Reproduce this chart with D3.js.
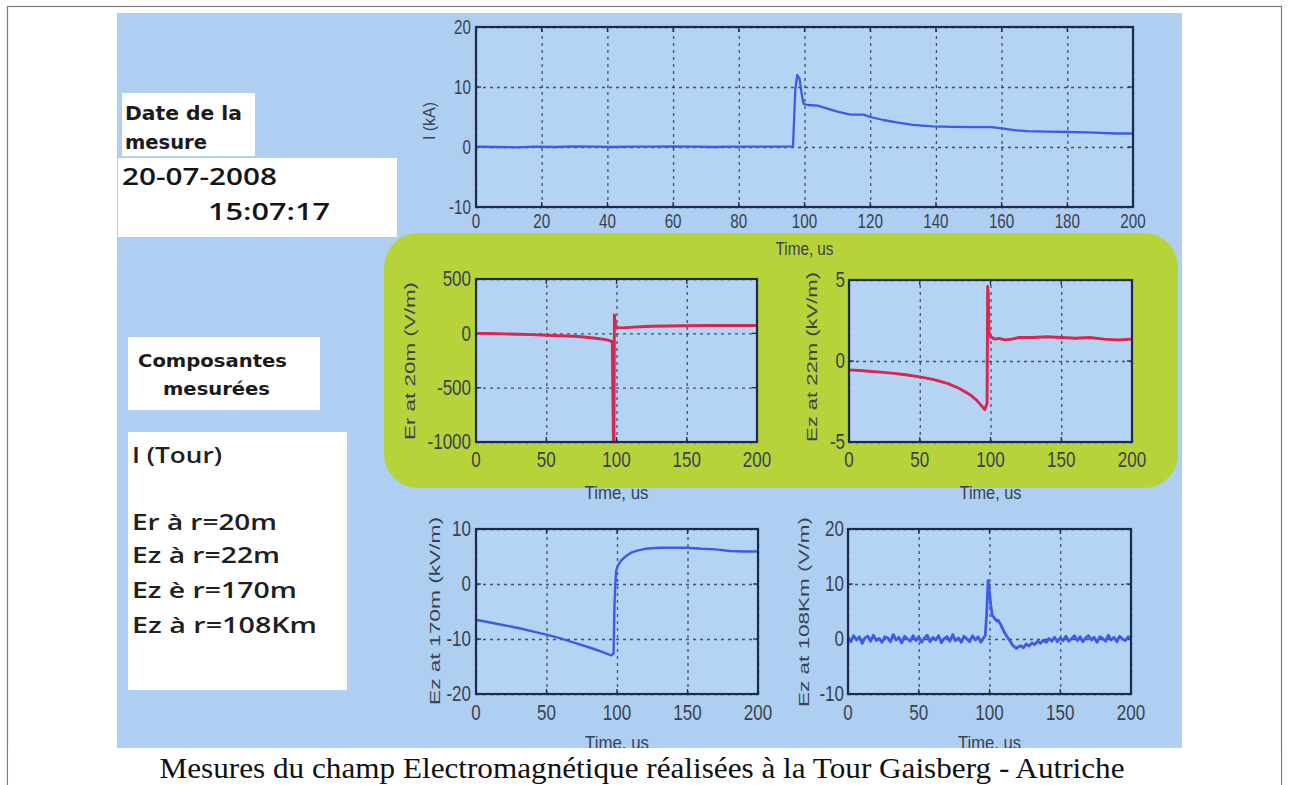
<!DOCTYPE html>
<html><head><meta charset="utf-8">
<script src="https://cdn.jsdelivr.net/npm/d3@7"></script>
<style>body{margin:0;background:#fff}svg{display:block}</style>
</head><body>
<svg id="c" width="1290" height="785"></svg>
<script>
// ---------- data ----------
const ticksTime20 = [0,20,40,60,80,100,120,140,160,180,200];
const ticksTime50 = [0,50,100,150,200];
const ticksI = [-10,0,10,20];
const ticksEr20 = [-1000,-500,0,500];
const ticksEz22 = [-5,0,5];
const ticksEz170 = [-20,-10,0,10];
const ticksEz108 = [-10,0,10,20];

const tI  = [0,6,12,18,24,30,36,42,48,54,60,66,72,78,84,90,96.5,97.2,97.8,98.5,99.1,99.7,101,104,107,110,114,118,120,124,128,133,139,145,151,157,160,164,168,174,180,186,190,195,200];
const vI  = [0.05,0,-0.05,0.05,0,0.1,0.05,0,0.05,0.05,0.1,0.05,0,0.05,0.05,0.05,0.1,9.5,12.0,11.4,9.0,7.2,7.0,6.9,6.4,5.9,5.4,5.4,5.0,4.5,4.1,3.7,3.45,3.35,3.3,3.3,3.1,2.8,2.65,2.55,2.5,2.45,2.35,2.25,2.25];

const tEr20 = [0,10,20,30,40,50,60,70,75,80,85,90,93,95,97,97.8,98.2,98.5,99,100,103,107,112,118,125,135,150,165,180,200];
const vEr20 = [0,-2,-5,-8,-12,-17,-22,-27,-31,-38,-45,-53,-60,-68,-77,-1000,-1000,170,100,55,50,53,57,61,65,68,70,72,72,72];

const tEz22 = [0,10,20,30,40,50,60,70,78,85,90,94,96,97.6,98.0,98.4,98.9,100,103,106,110,115,120,130,140,150,160,170,180,190,200];
const vEz22 = [-0.55,-0.6,-0.67,-0.75,-0.85,-0.98,-1.15,-1.4,-1.7,-2.05,-2.4,-2.8,-3.0,-2.6,4.6,4.2,1.8,1.5,1.35,1.4,1.3,1.35,1.45,1.45,1.5,1.45,1.4,1.45,1.35,1.3,1.35];

const tEz170 = [0,10,20,30,40,50,60,70,80,90,96,97.6,98.2,98.8,99.5,100.5,103,106,110,115,120,130,140,150,160,170,180,190,200];
const vEz170 = [-6.5,-7.0,-7.5,-8.0,-8.6,-9.2,-9.9,-10.7,-11.5,-12.4,-13.0,-12.6,-4.0,0.0,2.5,3.3,4.3,5.0,5.7,6.1,6.4,6.6,6.6,6.6,6.4,6.3,6.0,5.9,5.9];

const tEz108 = [0,2,4,6,8,10,12,14,16,18,20,22,24,26,28,30,32,34,36,38,40,42,44,46,48,50,52,54,56,58,60,62,64,66,68,70,72,74,76,78,80,82,84,86,88,90,92,94,96,
  97,98,99,100,101,102,103,104,105,106,107,108,109,110,111,112,113,114,115,116,117,118,119,120,
  122,124,126,128,130,132,134,136,138,140,142,144,146,148,150,152,154,156,158,160,162,164,166,168,170,172,174,176,178,180,182,184,186,188,190,192,194,196,198,200];
const vEz108 = [0.3,-0.5,0.6,-0.2,0.4,-0.8,0.2,0.5,-0.4,0.7,-0.3,0.1,-0.6,0.4,0.2,-0.5,0.8,-0.2,0.3,-0.7,0.5,0.0,-0.4,0.6,-0.3,0.4,-0.6,0.2,0.7,-0.5,0.3,-0.2,0.6,-0.7,0.1,0.4,-0.4,0.8,-0.3,0.2,-0.6,0.5,0.0,-0.5,0.6,-0.2,0.4,-0.6,0.3,
  0.6,4.5,10.6,8.5,6.0,4.2,4.0,3.6,3.3,3.4,3.0,2.6,2.0,1.5,1.0,0.6,0.2,-0.2,-0.5,-1.0,-1.3,-1.5,-1.7,-1.5,
  -1.2,-1.6,-0.9,-1.3,-0.7,-1.0,-0.4,-0.8,-0.2,-0.6,0.1,-0.4,0.3,-0.5,0.2,-0.3,0.5,-0.4,0.1,0.6,-0.3,0.4,-0.5,0.2,0.6,-0.2,0.3,-0.6,0.4,0.1,-0.4,0.7,-0.2,0.3,-0.5,0.5,0.0,-0.3,0.4,-0.1];

const boxDate = ["Date de la", "mesure"];
const boxDateValue = ["20-07-2008", "15:07:17"];
const boxComp = ["Composantes", "mesurées"];
const boxList = ["I (Tour)", "Er à r=20m", "Ez à r=22m", "Ez è r=170m", "Ez à r=108Km"];
const caption = "Mesures du champ Electromagnétique réalisées à la Tour Gaisberg - Autriche";

// ---------- drawing ----------
const svg = d3.select("#c");
const BLUE = "#3f5ae6", RED = "#d8264f";

// outer frame
svg.append("rect").attr("x",7.5).attr("y",6.5).attr("width",1274).attr("height",790)
  .attr("fill","#fff").attr("stroke","#7a7a7a").attr("stroke-width",1.2);
// slide background
svg.append("rect").attr("x",117).attr("y",13).attr("width",1065).attr("height",735).attr("fill","#aecff2");
// green panel
svg.append("rect").attr("x",384).attr("y",233).attr("width",794).attr("height",255).attr("rx",34)
  .attr("fill","#b6d43a");

// text boxes
function box(x,y,w,h){ svg.append("rect").attr("x",x).attr("y",y).attr("width",w).attr("height",h).attr("fill","#fff"); }
box(122,93,133,63);
box(118,158,279,79);
box(128,337,192,73);
box(128,432,219,258);

const boldFont = "'DejaVu Sans', Verdana, sans-serif";
function txt(s,x,y,opt){
  const t = svg.append("text").attr("x",x).attr("y",y).text(s)
    .attr("font-family",opt.family||boldFont).attr("font-size",opt.size)
    .attr("font-weight",opt.weight||"bold").attr("fill",opt.fill||"#1b1b1b")
    .attr("dominant-baseline","central").attr("text-anchor",opt.anchor||"start");
  if(opt.len) t.attr("textLength",opt.len).attr("lengthAdjust","spacingAndGlyphs");
  return t;
}
txt(boxDate[0],125,113,{size:19,len:117});
txt(boxDate[1],125,142,{size:19,len:82});
txt(boxDateValue[0],122,176,{size:23,weight:"600",family:"'Open Sans', 'DejaVu Sans', sans-serif",len:155,fill:"#151515"});
txt(boxDateValue[1],208,211,{size:23,weight:"600",family:"'Open Sans', 'DejaVu Sans', sans-serif",len:122,fill:"#151515"});
txt(boxComp[0],138,360,{size:18,len:149});
txt(boxComp[1],163,388,{size:18,len:107});
const listY = [455,522,555,590,625];
const listLen = [90,145,148,165,185];
boxList.forEach((s,i)=> txt(s,132,listY[i],{size:21,weight:"600",family:"'Open Sans', 'DejaVu Sans', sans-serif",len:listLen[i],fill:"#202020"}));

// panels
const tickFont = "'Liberation Sans', Arial, sans-serif";
const LABEL = "#3a4150";
function panel(o){
  const x = d3.scaleLinear().domain([0,200]).range([o.x0,o.x1]);
  const y = d3.scaleLinear().domain(o.yd).range([o.y1,o.y0]);
  const g = svg.append("g");
  g.append("rect").attr("x",o.x0).attr("y",o.y0).attr("width",o.x1-o.x0).attr("height",o.y1-o.y0)
    .attr("fill","#b5d4f3");
  // grid via axes
  const gx = g.append("g").attr("transform",`translate(0,${o.y1})`)
    .call(d3.axisBottom(x).tickValues(o.xt).tickSize(-(o.y1-o.y0)).tickFormat(""));
  const gy = g.append("g").attr("transform",`translate(${o.x0},0)`)
    .call(d3.axisLeft(y).tickValues(o.yt).tickSize(-(o.x1-o.x0)).tickFormat(""));
  [gx,gy].forEach(a=>{
    a.select(".domain").remove();
    a.selectAll(".tick line").attr("stroke","#2b3b5e").attr("stroke-width",1.3)
      .attr("stroke-dasharray","3,4").attr("opacity",0.85);
  });
  // inner tick marks
  o.xt.forEach(d=>{
    g.append("line").attr("x1",x(d)).attr("x2",x(d)).attr("y1",o.y1).attr("y2",o.y1-5).attr("stroke","#1f2d50").attr("stroke-width",1.3);
    g.append("line").attr("x1",x(d)).attr("x2",x(d)).attr("y1",o.y0).attr("y2",o.y0+5).attr("stroke","#1f2d50").attr("stroke-width",1.3);
  });
  o.yt.forEach(d=>{
    g.append("line").attr("x1",o.x0).attr("x2",o.x0+5).attr("y1",y(d)).attr("y2",y(d)).attr("stroke","#1f2d50").attr("stroke-width",1.3);
    g.append("line").attr("x1",o.x1).attr("x2",o.x1-5).attr("y1",y(d)).attr("y2",y(d)).attr("stroke","#1f2d50").attr("stroke-width",1.3);
  });
  // data line
  const pts = o.t.map((t,i)=>({t, v:o.v[i]}));
  g.append("path").datum(pts).attr("fill","none").attr("stroke",o.color)
    .attr("stroke-width",o.lw).attr("stroke-linejoin","round")
    .attr("d", d3.line().x(d=>x(d.t)).y(d=>y(d.v)));
  // frame
  g.append("rect").attr("x",o.x0).attr("y",o.y0).attr("width",o.x1-o.x0).attr("height",o.y1-o.y0)
    .attr("fill","none").attr("stroke","#1c2a4e").attr("stroke-width",2.2);
  // tick labels
  const [sx,sy] = o.sc;
  g.selectAll(null).data(o.xt).enter().append("text")
    .attr("transform",d=>`translate(${x(d)},${o.xTickY}) scale(${sx},${sy})`)
    .attr("text-anchor","middle").attr("dominant-baseline","central")
    .attr("font-family",tickFont).attr("font-size",o.fs).attr("fill",LABEL).text(d=>d);
  g.selectAll(null).data(o.yt).enter().append("text")
    .attr("transform",d=>`translate(${o.yTickX},${y(d)}) scale(${sx},${sy})`)
    .attr("text-anchor","end").attr("dominant-baseline","central")
    .attr("font-family",tickFont).attr("font-size",o.fs).attr("fill",LABEL).text(d=>d);
  // y label
  const yl = g.append("text").attr("transform",`translate(${o.ylx},${o.yly}) rotate(-90)`)
    .attr("text-anchor","middle").attr("dominant-baseline","central")
    .attr("font-family",tickFont).attr("font-size",o.ylfs).attr("fill",LABEL).text(o.yl);
  if(o.yllen) yl.attr("textLength",o.yllen).attr("lengthAdjust","spacingAndGlyphs");
  // x label
  g.append("text").attr("transform",`translate(${(o.x0+o.x1)/2},${o.xlY}) scale(1,1.3)`)
    .attr("text-anchor","middle").attr("dominant-baseline","central")
    .attr("font-family",tickFont).attr("font-size",14).attr("fill",LABEL)
    .attr("textLength",o.xllen).attr("lengthAdjust","spacingAndGlyphs").text("Time, us");
}

panel({x0:476,x1:1133,y0:27,y1:207,yd:[-10,20],yt:ticksI,xt:ticksTime20,t:tI,v:vI,color:BLUE,lw:2.3,
  xTickY:221,yTickX:471,fs:16,sc:[0.95,1.3],yl:"I (kA)",ylx:429,yly:121,yllen:0,ylfs:16,xlY:248,xllen:58});
panel({x0:476,x1:757,y0:279,y1:442,yd:[-1000,500],yt:ticksEr20,xt:ticksTime50,t:tEr20,v:vEr20,color:RED,lw:2.9,
  xTickY:460,yTickX:471,fs:17,sc:[1.0,1.25],yl:"Er at 20m (V/m)",ylx:409,yly:361,yllen:158,ylfs:15,xlY:492,xllen:64});
panel({x0:849,x1:1132,y0:280,y1:442,yd:[-5,5],yt:ticksEz22,xt:ticksTime50,t:tEz22,v:vEz22,color:RED,lw:2.9,
  xTickY:460,yTickX:845,fs:17,sc:[1.0,1.25],yl:"Ez at 22m (kV/m)",ylx:811,yly:357,yllen:170,ylfs:15,xlY:492,xllen:62});
panel({x0:476,x1:758,y0:529,y1:694,yd:[-20,10],yt:ticksEz170,xt:ticksTime50,t:tEz170,v:vEz170,color:BLUE,lw:2.4,
  xTickY:713,yTickX:471,fs:17,sc:[1.0,1.25],yl:"Ez at 170m (kV/m)",ylx:434,yly:611,yllen:188,ylfs:15,xlY:742,xllen:64});
panel({x0:848,x1:1131,y0:529,y1:694,yd:[-10,20],yt:ticksEz108,xt:ticksTime50,t:tEz108,v:vEz108,color:BLUE,lw:2.8,
  xTickY:713,yTickX:844,fs:17,sc:[1.0,1.25],yl:"Ez at 108Km (V/m)",ylx:803,yly:612,yllen:190,ylfs:15,xlY:742,xllen:63});

// white strip under the slide (clips the lowest labels like the source)
svg.append("rect").attr("x",8.2).attr("y",748).attr("width",1272.6).attr("height",37).attr("fill","#fff");

// caption
svg.append("text").attr("x",642).attr("y",767).attr("text-anchor","middle").attr("dominant-baseline","central")
  .attr("font-family","'Liberation Serif','Times New Roman',serif").attr("font-size",30).attr("fill","#111")
  .attr("textLength",965).attr("lengthAdjust","spacingAndGlyphs").text(caption);
</script>
</body></html>
